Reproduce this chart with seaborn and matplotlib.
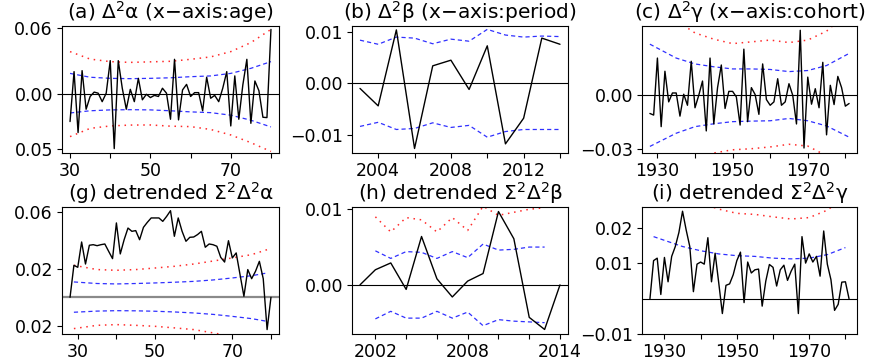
import matplotlib
matplotlib.use("Agg")
import matplotlib.pyplot as plt
import seaborn as sns

# ---------------- data ----------------
# (a) second differences of age effects
age_a = list(range(30, 81))
alpha_d2 = [-0.0248, 0.0206, -0.0348, 0.0215, -0.0136, -0.002, 0.002, 0.001, -0.0067, 0.001, 0.0306,
            -0.0494, 0.0306, 0.0055, -0.0136, 0.0045, -0.0067, 0.0145, -0.005, 0.0, -0.003,
            -0.001, -0.002, 0.0055, 0.001, -0.0227, 0.0318, -0.0233, 0.004, 0.009, -0.002,
            0.0015, 0.0015, -0.015, 0.0155, -0.0036, -0.001, -0.0067, 0.0055, 0.0206, -0.0288,
            0.0167, -0.0227, 0.0085, 0.0318, -0.0264, 0.0121, 0.0033, -0.0209, -0.0212, 0.059]
age_band_a = [30, 35, 40, 45, 50, 55, 60, 65, 70, 75, 80]
a_blue_up = [0.019, 0.0155, 0.0145, 0.0142, 0.0145, 0.015, 0.016, 0.0167, 0.019, 0.0236, 0.0297]
a_blue_lo = [-0.017, -0.015, -0.0142, -0.014, -0.0142, -0.015, -0.016, -0.0167, -0.019, -0.0236, -0.0297]
a_red_up = [0.0388, 0.032, 0.0297, 0.029, 0.0295, 0.030, 0.0318, 0.034, 0.0388, 0.047, 0.059]
a_red_lo = [-0.0385, -0.031, -0.0288, -0.028, -0.0279, -0.029, -0.0294, -0.032, -0.037, -0.044, -0.052]

# (b) second differences of period effects
period_b = list(range(2003, 2015))
beta_d2 = [-0.001, -0.0044, 0.0104, -0.0127, 0.0034, 0.0045, -0.0012, 0.0073, -0.0118, -0.0068, 0.0088, 0.0076]
b_blue_up = [0.0084, 0.0076, 0.009, 0.0088, 0.0077, 0.0086, 0.0082, 0.0105, 0.0094, 0.009, 0.0092, 0.0091]
b_blue_lo = [-0.0084, -0.0076, -0.009, -0.0088, -0.0077, -0.0086, -0.0082, -0.0105, -0.0094, -0.009, -0.009, -0.009]

# (c) second differences of cohort effects
cohort_c = list(range(1928, 1982))
gamma_d2 = [-0.0102, -0.0111, 0.0209, -0.0176, 0.0135, -0.0037, 0.0013, 0.0013, -0.0117, 0.0006,
            -0.0056, 0.0191, -0.007, 0.0, 0.008, -0.02, 0.0209, -0.0161, 0.0043, 0.017,
            -0.0074, 0.0022, 0.0022, -0.0009, -0.0167, 0.0259, -0.0148, 0.0043, 0.0004, -0.0107,
            0.0176, -0.0024, -0.0056, -0.0037, 0.0093, -0.0056, -0.0037, 0.0065, 0.0, -0.0161,
            0.0365, -0.0296, 0.0102, -0.005, 0.0037, -0.007, 0.0185, -0.0222, 0.0056, -0.0052,
            0.0106, 0.0043, -0.0061, -0.0046]
cohort_band_c = [1928, 1935, 1940, 1945, 1950, 1955, 1960, 1965, 1970, 1975, 1981]
c_blue_up = [0.0287, 0.0209, 0.0176, 0.016, 0.0148, 0.0148, 0.0145, 0.0133, 0.0139, 0.0167, 0.0235]
c_blue_lo = [-0.0287, -0.0213, -0.0176, -0.016, -0.0148, -0.0145, -0.0143, -0.013, -0.0143, -0.0172, -0.0235]
c_red_up = [0.058, 0.042, 0.035, 0.0315, 0.029, 0.030, 0.031, 0.0296, 0.031, 0.036, 0.047]
c_red_lo = [-0.058, -0.042, -0.035, -0.0324, -0.0306, -0.030, -0.029, -0.0275, -0.0285, -0.034, -0.047]

# (g) detrended double sums of age
age_g = list(range(28, 81))
alpha_dt = [0.0, 0.0225, 0.0211, 0.0389, 0.0234, 0.0366, 0.037, 0.0363, 0.037, 0.0375,
            0.0323, 0.0272, 0.0523, 0.0305, 0.0405, 0.0487, 0.0464, 0.0469, 0.0405, 0.0492,
            0.0527, 0.0558, 0.0558, 0.0558, 0.0534, 0.0569, 0.0609, 0.0429, 0.0558, 0.0464,
            0.0394, 0.0422, 0.0424, 0.0441, 0.0464, 0.0352, 0.0375, 0.037, 0.0359, 0.0281,
            0.0248, 0.0398, 0.0277, 0.0312, 0.0159, 0.0007, 0.0195, 0.0131, 0.0183, 0.0253,
            0.0131, -0.0227, 0.0]
age_band_g = [29, 35, 40, 45, 50, 55, 60, 65, 70, 75, 79]
g_red_up = [0.0225, 0.0195, 0.019, 0.0195, 0.0206, 0.0218, 0.0234, 0.0255, 0.0277, 0.030, 0.0335]
g_blue_up = [0.0108, 0.0097, 0.0094, 0.0097, 0.0101, 0.0106, 0.0112, 0.0122, 0.0136, 0.0152, 0.0171]
g_blue_lo = [-0.0105, -0.0097, -0.0094, -0.0095, -0.0098, -0.0103, -0.011, -0.012, -0.0134, -0.015, -0.0169]
g_red_lo = [-0.022, -0.0197, -0.0192, -0.0197, -0.0204, -0.0215, -0.0227, -0.025, -0.0275, -0.030, -0.034]

# (h) detrended double sums of period
period_h = list(range(2001, 2015))
beta_dt = [0.0, 0.002, 0.0029, -0.0006, 0.0064, 0.0008, -0.0016, 0.0005, 0.0015, 0.0097, 0.0061, -0.0043, -0.0059, 0.0]
period_band_h = list(range(2002, 2014))
h_blue_up = [0.0045, 0.0035, 0.0044, 0.0043, 0.0035, 0.0044, 0.0036, 0.0054, 0.0046, 0.0047, 0.005, 0.005]
h_blue_lo = [-0.0045, -0.0035, -0.0044, -0.0044, -0.0035, -0.0044, -0.0036, -0.0054, -0.0046, -0.0048, -0.0049, -0.005]
h_red_up = [0.009, 0.007, 0.0089, 0.0086, 0.007, 0.0089, 0.0072, 0.0104, 0.0092, 0.0096, 0.01, 0.0102]

# (i) detrended double sums of cohort
cohort_i = list(range(1926, 1982))
gamma_dt = [0.0, 0.0108, 0.0115, 0.0012, 0.0117, 0.0048, 0.012, 0.0148, 0.0188, 0.0248,
            0.0195, 0.0148, 0.002, 0.0098, 0.0104, 0.0098, 0.0173, 0.0048, 0.0129, 0.0045,
            -0.0042, 0.0038, 0.0042, 0.0068, 0.0108, 0.0132, -0.0011, 0.0104, 0.0073, 0.0082,
            0.0084, -0.0021, 0.005, 0.0097, 0.0089, 0.0036, 0.0082, 0.0095, 0.0052, 0.0078,
            0.0098, -0.0042, 0.0176, 0.0101, 0.0127, 0.0104, 0.012, 0.0064, 0.0192, 0.0098,
            0.0054, -0.0033, -0.0016, 0.0047, 0.0048, 0.0]
cohort_band_i = [1927, 1935, 1940, 1945, 1950, 1955, 1960, 1965, 1970, 1975, 1980]
i_blue_up = [0.0176, 0.0148, 0.0136, 0.0127, 0.0122, 0.012, 0.0115, 0.0113, 0.0115, 0.0125, 0.0145]
i_red_up = [0.035, 0.0296, 0.0272, 0.0254, 0.0242, 0.0239, 0.0232, 0.0226, 0.023, 0.0251, 0.029]

titles = ["(a) $\\Delta^2$\u03b1 (x\u2212axis:age)",
          "(b) $\\Delta^2$\u03b2 (x\u2212axis:period)",
          "(c) $\\Delta^2$\u03b3 (x\u2212axis:cohort)",
          "(g) detrended $\\Sigma^2\\Delta^2$\u03b1",
          "(h) detrended $\\Sigma^2\\Delta^2$\u03b2",
          "(i) detrended $\\Sigma^2\\Delta^2$\u03b3"]

# ---------------- style ----------------
sns.set_theme(style="white")
plt.rcParams["font.family"] = ["DejaVu Sans"]
plt.rcParams["mathtext.fontset"] = "dejavusans"
plt.rcParams["lines.scale_dashes"] = False

fig = plt.figure(figsize=(8.79, 3.63), dpi=100)
W, H = 879.0, 363.0
cols = [(62, 279), (352, 568), (642, 857)]
rows = [(26, 153), (207, 334)]

def make_ax(r, c):
    x0, x1 = cols[c]
    y0, y1 = rows[r]
    return fig.add_axes([x0 / W, 1 - y1 / H, (x1 - x0) / W, (y1 - y0) / H])

BLUE = dict(color="#3030ff", linewidth=0.9, linestyle=(0, (3.0, 2.2)))
RED = dict(color="#ff2a2a", linewidth=1.1, linestyle=(0, (1.1, 3.4)))
BLACK = dict(color="black", linewidth=1.0)

def style_ax(ax, title, xlim, ylim, xticks, xlabels, yticks, ylabels, zero_color="black", zero_lw=0.8):
    ax.axhline(0, color=zero_color, linewidth=zero_lw, zorder=1)
    ax.set_xlim(*xlim)
    ax.set_ylim(*ylim)
    ax.set_xticks(xticks)
    ax.set_xticklabels(xlabels)
    ax.set_yticks(yticks)
    ax.set_yticklabels(ylabels)
    ax.set_xlabel("")
    ax.set_ylabel("")
    ax.tick_params(axis="both", direction="out", length=3.5, width=0.8, color="black",
                   labelsize=12.5, labelcolor="black", pad=3, bottom=True, left=True)
    for s in ax.spines.values():
        s.set_visible(True)
        s.set_color("black")
        s.set_linewidth(0.8)
    ax.set_title(title, fontsize=14.5, pad=5, color="black")
    ax.grid(False)

def yr_labels(ticks, shown):
    return [str(t) if t in shown else "" for t in ticks]

# (a)
ax = make_ax(0, 0)
sns.lineplot(x=age_band_a, y=a_red_up, ax=ax, **RED)
sns.lineplot(x=age_band_a, y=a_red_lo, ax=ax, **RED)
sns.lineplot(x=age_band_a, y=a_blue_up, ax=ax, **BLUE)
sns.lineplot(x=age_band_a, y=a_blue_lo, ax=ax, **BLUE)
sns.lineplot(x=age_a, y=alpha_d2, ax=ax, **BLACK)
xt = [30, 40, 50, 60, 70, 80]
style_ax(ax, titles[0], (28, 82), (-0.0534, 0.0621), xt, yr_labels(xt, [30, 50, 70]),
         [0.06, 0.0, -0.05], ["0.06", "0.00", "0.05"])

# (b)
ax = make_ax(0, 1)
sns.lineplot(x=period_b, y=b_blue_up, ax=ax, **BLUE)
sns.lineplot(x=period_b, y=b_blue_lo, ax=ax, **BLUE)
sns.lineplot(x=period_b, y=beta_d2, ax=ax, **BLACK)
xt = [2004, 2006, 2008, 2010, 2012, 2014]
style_ax(ax, titles[1], (2002.56, 2014.44), (-0.01358, 0.01116), xt, yr_labels(xt, [2004, 2008, 2012]),
         [0.01, 0.0, -0.01], ["0.01", "0.00", "\u22120.01"])

# (c)
ax = make_ax(0, 2)
sns.lineplot(x=cohort_band_c, y=c_red_up, ax=ax, **RED)
sns.lineplot(x=cohort_band_c, y=c_red_lo, ax=ax, **RED)
sns.lineplot(x=cohort_band_c, y=c_blue_up, ax=ax, **BLUE)
sns.lineplot(x=cohort_band_c, y=c_blue_lo, ax=ax, **BLUE)
sns.lineplot(x=cohort_c, y=gamma_d2, ax=ax, **BLACK)
xt = [1930, 1940, 1950, 1960, 1970, 1980]
style_ax(ax, titles[2], (1925.9, 1983.1), (-0.0324, 0.0389), xt, yr_labels(xt, [1930, 1950, 1970]),
         [0.0, -0.03], ["0.00", "\u22120.03"])

# (g)
ax = make_ax(1, 0)
sns.lineplot(x=age_band_g, y=g_red_up, ax=ax, **RED)
sns.lineplot(x=age_band_g, y=g_red_lo, ax=ax, **RED)
sns.lineplot(x=age_band_g, y=g_blue_up, ax=ax, **BLUE)
sns.lineplot(x=age_band_g, y=g_blue_lo, ax=ax, **BLUE)
sns.lineplot(x=age_g, y=alpha_dt, ax=ax, **BLACK)
xt = [30, 40, 50, 60, 70, 80]
style_ax(ax, titles[3], (25.92, 82.08), (-0.0258, 0.0635), xt, yr_labels(xt, [30, 50, 70]),
         [0.06, 0.02, -0.02], ["0.06", "0.02", "0.02"], zero_color="#8a8a8a", zero_lw=1.6)

# (h)
ax = make_ax(1, 1)
sns.lineplot(x=period_band_h, y=h_red_up, ax=ax, **RED)
sns.lineplot(x=period_band_h, y=h_blue_up, ax=ax, **BLUE)
sns.lineplot(x=period_band_h, y=h_blue_lo, ax=ax, **BLUE)
sns.lineplot(x=period_h, y=beta_dt, ax=ax, **BLACK)
xt = [2002, 2004, 2006, 2008, 2010, 2012, 2014]
style_ax(ax, titles[4], (2000.48, 2014.52), (-0.0065, 0.0103), xt, yr_labels(xt, [2002, 2008, 2014]),
         [0.01, 0.0], ["0.01", "0.00"])

# (i)
ax = make_ax(1, 2)
sns.lineplot(x=cohort_band_i, y=i_red_up, ax=ax, **RED)
sns.lineplot(x=cohort_band_i, y=i_blue_up, ax=ax, **BLUE)
sns.lineplot(x=cohort_i, y=gamma_dt, ax=ax, **BLACK)
xt = [1930, 1940, 1950, 1960, 1970, 1980]
style_ax(ax, titles[5], (1923.8, 1983.2), (-0.0098, 0.026), xt, yr_labels(xt, [1930, 1950, 1970]),
         [0.02, 0.01, -0.01], ["0.02", "0.01", "\u22120.01"])

fig.savefig("out.png", dpi=100)
